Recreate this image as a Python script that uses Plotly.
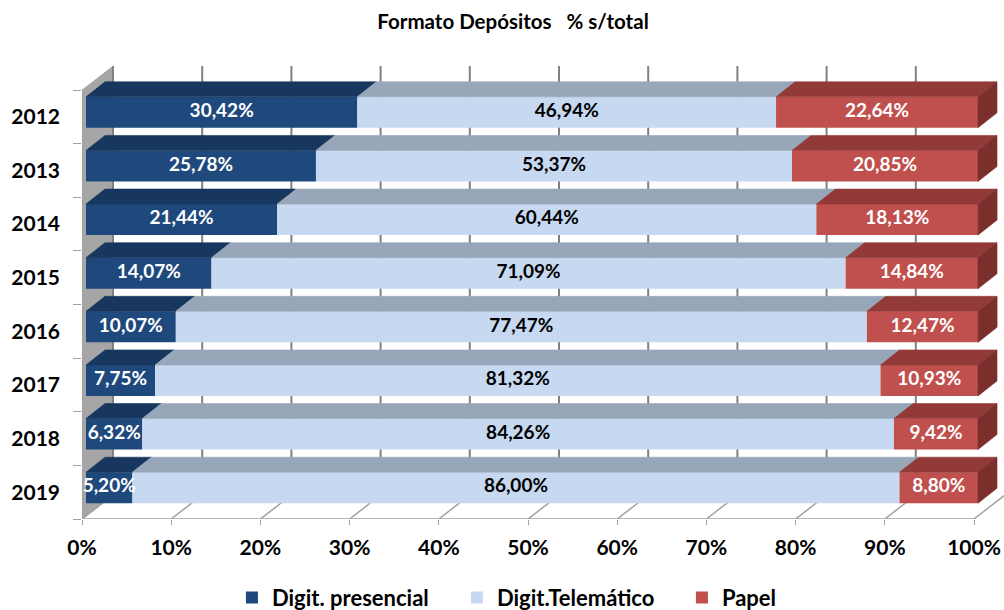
import plotly.graph_objects as go

years = ["2012", "2013", "2014", "2015", "2016", "2017", "2018", "2019"]
presencial = [30.42, 25.78, 21.44, 14.07, 10.07, 7.75, 6.32, 5.20]
telematico = [46.94, 53.37, 60.44, 71.09, 77.47, 81.32, 84.26, 86.00]
papel = [22.64, 20.85, 18.13, 14.84, 12.47, 10.93, 9.42, 8.80]
x_ticks = [0, 10, 20, 30, 40, 50, 60, 70, 80, 90, 100]

series = [
    ("Digit. presencial", presencial, "#1F497D", "#17375E", "white"),
    ("Digit.Telemático", telematico, "#C6D9F1", "#97A6B9", "black"),
    ("Papel", papel, "#C0504D", "#913A38", "white"),
]
papel_side = "#7B2F2D"

# pixel scale of the fake 3d box (1 x unit = 8.92 px, 1 row = 53.6 px)
UX, UY = 8.92, 53.625
bar_off_x, bar_off_y = 4 / UX, -4.5 / UY
bar_h = 31 / UY
bar_dx, bar_dy = 19 / UX, 15 / UY
wall_dx, wall_dy = 31 / UX, 24 / UY

FONT = "Lato"
rows = list(range(len(years)))
n = len(years)

fig = go.Figure()


def poly_trace(xs, ys, color, axes=("x", "y")):
    return go.Scatter(
        x=xs, y=ys, mode="lines", fill="toself", fillcolor=color,
        line=dict(color=color, width=0.6), hoverinfo="skip", showlegend=False,
        xaxis=axes[0], yaxis=axes[1],
    )


# ---- background box: left wall, floor, gridlines (main subplot)
top, bottom = -0.5, n - 0.5
fig.add_trace(poly_trace(
    [0, 0, wall_dx, wall_dx, 0],
    [top, bottom, bottom - wall_dy, top - wall_dy, top],
    "#A6A6A6",
))
grid_x, grid_y, floor_x, floor_y = [], [], [], []
for t in x_ticks:
    grid_x += [t + wall_dx, t + wall_dx, None]
    grid_y += [bottom - wall_dy, top - wall_dy, None]
    floor_x += [t, t + wall_dx, None]
    floor_y += [bottom, bottom - wall_dy, None]
floor_x += [0, 100, None]
floor_y += [bottom, bottom, None]
fig.add_trace(go.Scatter(x=grid_x, y=grid_y, mode="lines",
                         line=dict(color="#808080", width=2),
                         hoverinfo="skip", showlegend=False))
fig.add_trace(go.Scatter(x=floor_x, y=floor_y, mode="lines",
                         line=dict(color="#A0A0A0", width=1.5),
                         hoverinfo="skip", showlegend=False))
fig.add_trace(go.Scatter(x=[0, 0], y=[top, bottom], mode="lines",
                         line=dict(color="#A0A0A0", width=1.5),
                         hoverinfo="skip", showlegend=False))

# ---- bars (overlay subplot so they sit above the box)
base = [0.0] * n
label_x, label_y, label_t, label_c = [], [], [], []
for name, vals, front, topc, txt in series:
    starts = [b + bar_off_x for b in base]
    ys = [r + bar_off_y for r in rows]
    fig.add_trace(go.Bar(
        y=ys, x=vals, base=starts, orientation="h", width=bar_h,
        marker=dict(color=front, line=dict(width=0)),
        name="<b>" + name + "</b>", xaxis="x2", yaxis="y2", hoverinfo="skip",
    ))
    px, py = [], []
    for s, v, yc in zip(starts, vals, ys):
        yt = yc - bar_h / 2
        px += [s, s + v, s + v + bar_dx, s + bar_dx, s, None]
        py += [yt, yt, yt - bar_dy, yt - bar_dy, yt, None]
        label_x.append(s + v / 2)
        label_y.append(yc)
        label_t.append(f"{v:.2f}".replace(".", ",") + "%")
        label_c.append(txt)
    fig.add_trace(poly_trace(px, py, topc, ("x2", "y2")))
    base = [b + v for b, v in zip(base, vals)]

# right side of the last segment
sx, sy = [], []
for b, yc in zip(base, [r + bar_off_y for r in rows]):
    e = b + bar_off_x
    yt, yb = yc - bar_h / 2, yc + bar_h / 2
    sx += [e, e, e + bar_dx, e + bar_dx, e, None]
    sy += [yt, yb, yb - bar_dy, yt - bar_dy, yt, None]
fig.add_trace(poly_trace(sx, sy, papel_side, ("x2", "y2")))

fig.add_trace(go.Scatter(
    x=label_x, y=label_y, text=label_t, mode="text",
    textfont=dict(family=FONT, size=19, color=label_c, weight="bold"),
    cliponaxis=False, hoverinfo="skip", showlegend=False,
    xaxis="x2", yaxis="y2",
))

x_range = [0, 922 / UX]
y_range = [n - 0.5, n - 0.5 - 459 / UY]

fig.update_layout(
    width=1004, height=610,
    margin=dict(l=82, r=0, t=60, b=91),
    paper_bgcolor="white", plot_bgcolor="rgba(0,0,0,0)",
    barmode="overlay",
    font=dict(family=FONT, color="black"),
    title=dict(text="<b>Formato Depósitos\u00a0\u00a0\u00a0% s/total</b>",
               font=dict(size=20.5), x=0.511, xref="container",
               y=0.964, yref="container", xanchor="center", yanchor="middle"),
    xaxis=dict(range=x_range, tickvals=x_ticks,
               ticktext=[f"{t}%" for t in x_ticks],
               ticks="outside", ticklen=5, tickcolor="#A0A0A0",
               ticklabelstandoff=5,
               tickfont=dict(size=21, weight="bold"),
               showgrid=False, zeroline=False, showline=False),
    yaxis=dict(range=y_range, tickvals=rows, ticktext=years,
               ticks="", tickfont=dict(size=21, weight="bold"),
               ticklabelstandoff=21,
               minor=dict(tickvals=[r - 0.5 for r in rows] + [n - 0.5],
                          ticks="outside", ticklen=8, tickcolor="#A0A0A0"),
               showgrid=False, zeroline=False, showline=False),
    xaxis2=dict(range=x_range, overlaying="x", anchor="y2", visible=False),
    yaxis2=dict(range=y_range, overlaying="y", anchor="x2", visible=False),
    legend=dict(orientation="h", x=0.231, xref="container", xanchor="left",
                y=0.02, yref="container", yanchor="middle",
                font=dict(size=22), entrywidth=180, traceorder="normal"),
)

fig.write_html("out.html", config={"displayModeBar": False},
               post_script="document.body.style.margin='0';")
